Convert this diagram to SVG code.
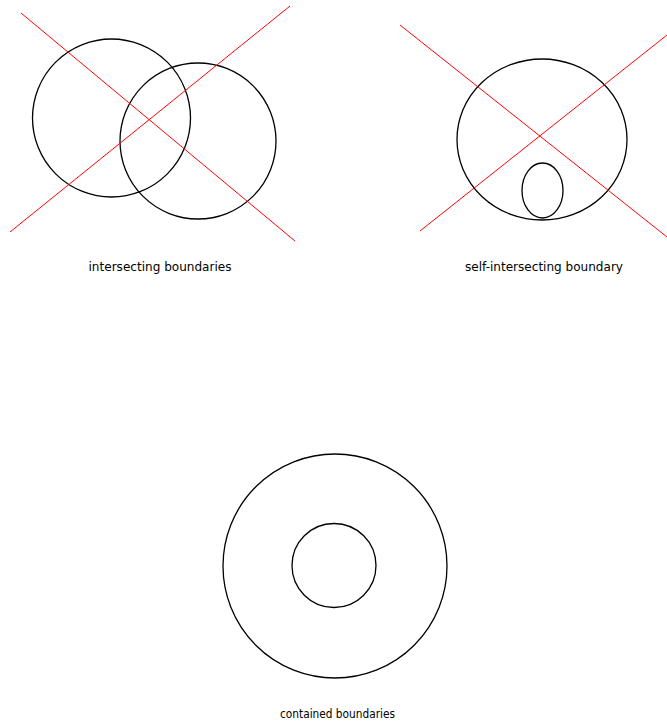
<svg xmlns="http://www.w3.org/2000/svg" width="667" height="723" viewBox="0 0 667 723">
<style>
.b{fill:none;stroke:#000;stroke-width:1.3}
.r{fill:none;stroke:#ff0000;stroke-width:1}
.t{font-family:"DejaVu Sans","Liberation Sans",sans-serif;font-size:12.5px;fill:#000;text-anchor:middle}
</style>
<rect width="667" height="723" fill="#fff"/>
<g id="intersecting">
<circle class="b" cx="111.5" cy="118" r="79"/>
<circle class="b" cx="198" cy="141" r="78"/>
<text class="t" x="160" y="271" textLength="143" lengthAdjust="spacingAndGlyphs">intersecting boundaries</text>
</g>
<g id="self-intersecting">
<ellipse class="b" cx="542" cy="139.5" rx="85" ry="80.5"/>
<ellipse class="b" cx="542.5" cy="190.5" rx="20.5" ry="27.5"/>
<text class="t" x="544" y="271" textLength="158" lengthAdjust="spacingAndGlyphs">self-intersecting boundary</text>
</g>
<g id="contained">
<circle class="b" cx="335" cy="566" r="112"/>
<circle class="b" cx="334" cy="565.5" r="42"/>
<text class="t" x="337.5" y="718" textLength="115" lengthAdjust="spacingAndGlyphs">contained boundaries</text>
</g>
<g id="connectors">
<line class="r" x1="21" y1="13" x2="295" y2="241"/>
<line class="r" x1="10" y1="232" x2="290" y2="6"/>
<line class="r" x1="400" y1="25" x2="667" y2="237"/>
<line class="r" x1="420" y1="231" x2="667" y2="35"/>
</g>
</svg>
